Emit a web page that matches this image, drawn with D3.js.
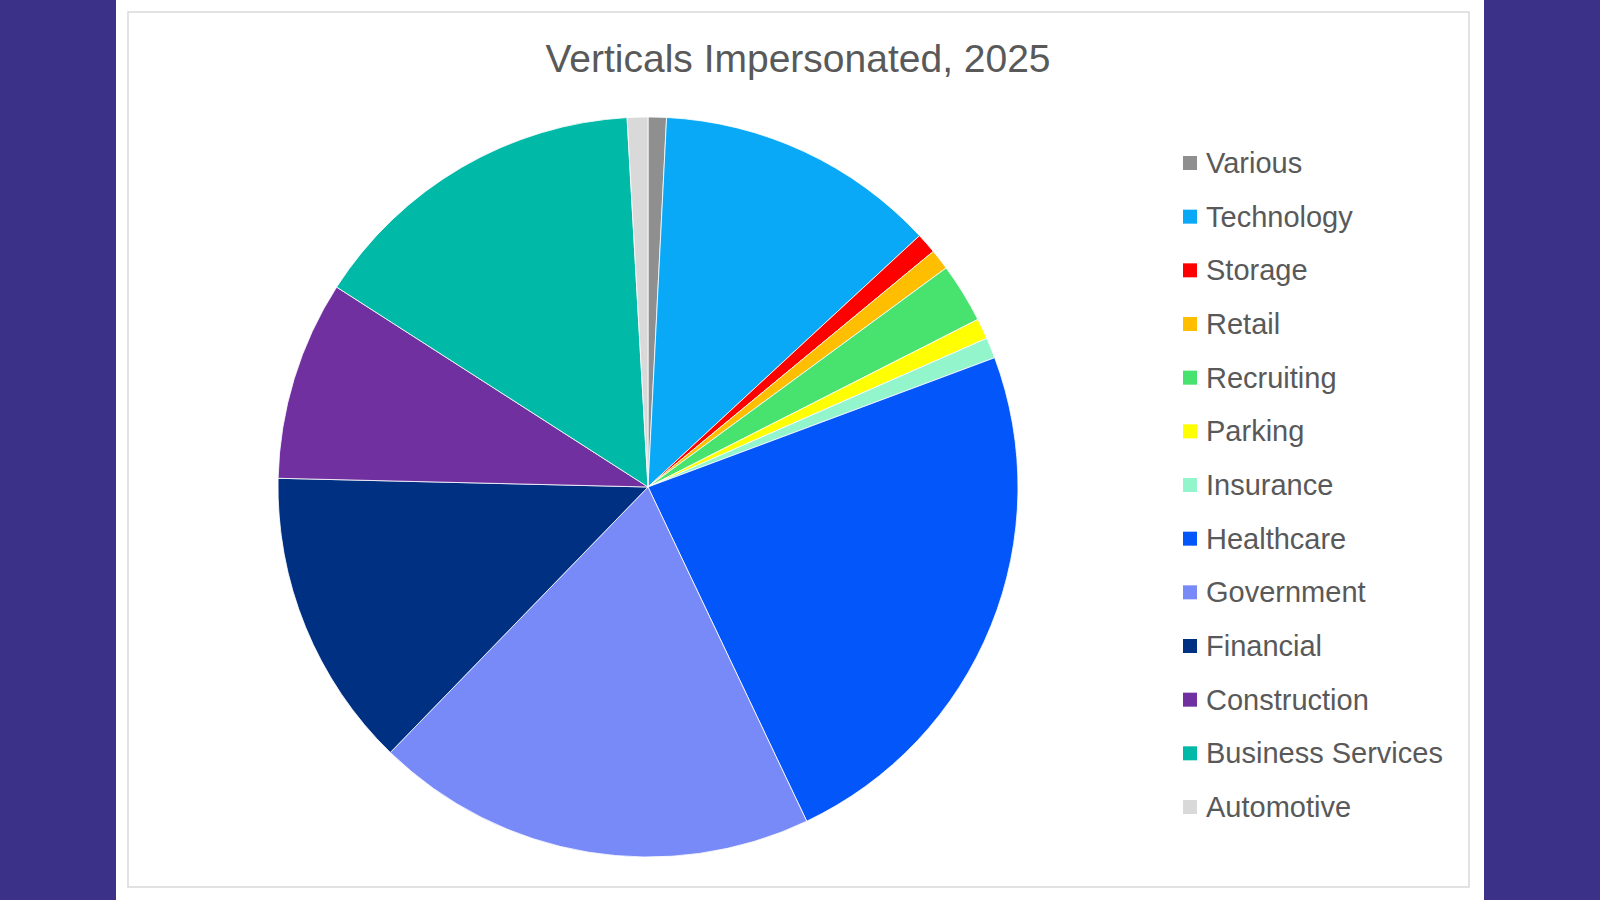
<!DOCTYPE html>
<html>
<head>
<meta charset="utf-8">
<script src="https://cdn.jsdelivr.net/npm/d3@7"></script>
<style>
  body { margin: 0; background: #3c3189; }
  svg { display: block; }
</style>
</head>
<body>
<svg width="1600" height="900"></svg>
<script>
const width = 1600;
const height = 900;

// data, in Excel order (clockwise from 12 o'clock)
const categories = ["Various", "Technology", "Storage", "Retail", "Recruiting", "Parking",
    "Insurance", "Healthcare", "Government", "Financial", "Construction",
    "Business Services", "Automotive"];
const shares = [0.8, 12.3, 0.9, 0.9, 2.6, 0.9, 0.9, 23.6, 19.3, 13.1, 8.7, 15.0, 0.9];
const sliceColors = ["#8f8f8f", "#0aa9f8", "#ff0000", "#ffbf00", "#48e26f", "#ffff00",
    "#93f5cb", "#0256fa", "#788af8", "#003082", "#7030a0", "#00b9a6", "#d9d9d9"];
const title = "Verticals Impersonated, 2025";

const svg = d3.select("svg");

// white page between the purple side bars
svg.append("rect")
    .attr("x", 116).attr("y", 0)
    .attr("width", 1368).attr("height", height)
    .attr("fill", "white");

// chart frame
svg.append("rect")
    .attr("x", 128).attr("y", 12)
    .attr("width", 1341).attr("height", 875)
    .attr("fill", "white")
    .attr("stroke", "#d9d9d9")
    .attr("stroke-width", 1.5);

svg.append("text")
    .attr("x", 798)
    .attr("y", 72)
    .attr("text-anchor", "middle")
    .attr("font-family", "Liberation Sans, Arial, sans-serif")
    .attr("font-size", "39px")
    .attr("fill", "#595959")
    .text(title);

const color = d3.scaleOrdinal().domain(categories).range(sliceColors);

const pie = d3.pie().sort(null).value(d => d.value);
const arc = d3.arc().innerRadius(0).outerRadius(370);

const data = categories.map((c, i) => ({ name: c, value: shares[i] }));

svg.append("g")
    .attr("transform", "translate(648,487)")
    .selectAll("path")
    .data(pie(data))
    .join("path")
    .attr("d", arc)
    .attr("fill", d => color(d.data.name))
    .attr("stroke", "white")
    .attr("stroke-width", 0.8);

// legend
const legendY = d3.scalePoint().domain(categories).range([163, 807]);

const legend = svg.append("g")
    .selectAll("g")
    .data(categories)
    .join("g")
    .attr("transform", d => `translate(1183,${legendY(d)})`);

legend.append("rect")
    .attr("x", 0).attr("y", -7)
    .attr("width", 14).attr("height", 14)
    .attr("fill", d => color(d));

legend.append("text")
    .attr("x", 23)
    .attr("y", 10)
    .attr("font-family", "Liberation Sans, Arial, sans-serif")
    .attr("font-size", "29px")
    .attr("fill", "#595959")
    .text(d => d);
</script>
</body>
</html>
